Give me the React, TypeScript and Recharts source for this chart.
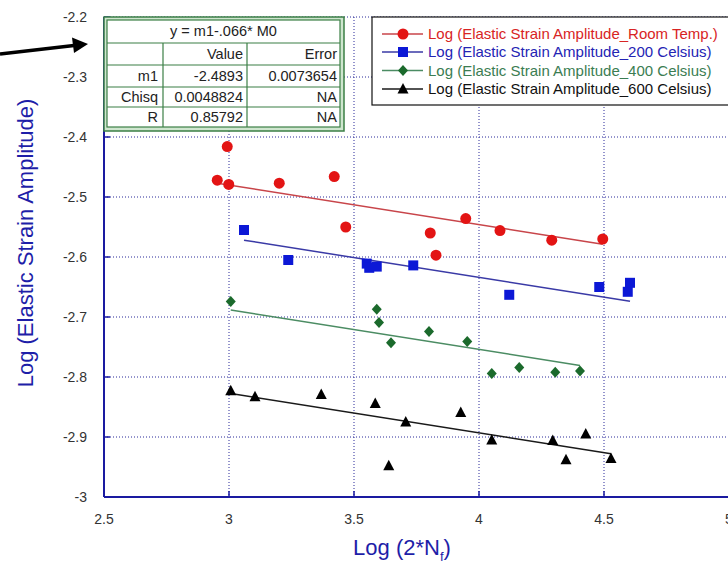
import { CartesianGrid, ReferenceLine, Scatter, ScatterChart, XAxis, YAxis } from "recharts"

// Log(2*Nf) against Log(elastic strain amplitude), one pair of arrays per test temperature
const roomTempX = [2.953, 2.993, 2.999, 3.201, 3.421, 3.467, 3.805, 3.828, 3.947, 4.084, 4.291, 4.495]
const roomTempY = [-2.472, -2.416, -2.479, -2.477, -2.466, -2.55, -2.56, -2.597, -2.536, -2.556, -2.572, -2.57]

const c200X = [3.06, 3.237, 3.551, 3.561, 3.591, 3.737, 4.121, 4.481, 4.595, 4.604]
const c200Y = [-2.555, -2.605, -2.611, -2.618, -2.616, -2.614, -2.663, -2.65, -2.658, -2.643]

const c400X = [3.007, 3.591, 3.6, 3.648, 3.8, 3.953, 4.051, 4.161, 4.305, 4.404]
const c400Y = [-2.674, -2.687, -2.709, -2.743, -2.724, -2.741, -2.794, -2.784, -2.792, -2.79]

const c600X = [3.007, 3.104, 3.369, 3.585, 3.639, 3.707, 3.927, 4.051, 4.295, 4.348, 4.427, 4.528]
const c600Y = [-2.823, -2.833, -2.829, -2.844, -2.948, -2.875, -2.859, -2.905, -2.906, -2.938, -2.895, -2.936]

// fitted lines share the slope, intercept per series
const fitSlope = -0.066
const fitIntercepts = [-2.282, -2.37, -2.49, -2.629]

const seriesNames = [
  "Log (Elastic Strain Amplitude_Room Temp.)",
  "Log (Elastic Strain Amplitude_200 Celsius)",
  "Log (Elastic Strain Amplitude_400 Celsius)",
  "Log (Elastic Strain Amplitude_600 Celsius)",
]

const xTicks = [2.5, 3, 3.5, 4, 4.5, 5]
const yTicks = [-3, -2.9, -2.8, -2.7, -2.6, -2.5, -2.4, -2.3, -2.2]

const fitTitle = "y = m1-.066* M0"
const fitHeader = ["", "Value", "Error"]
const fitRows = [
  ["m1", "-2.4893", "0.0073654"],
  ["Chisq", "0.0048824", "NA"],
  ["R", "0.85792", "NA"],
]

type Kind = "circle" | "square" | "diamond" | "triangle"

const markerKinds: Kind[] = ["circle", "square", "diamond", "triangle"]
const markerColors = ["#e31414", "#0c18d6", "#1b6a2c", "#000000"]
const fitColors = ["#c8454a", "#3a3aa6", "#4b8c63", "#1a1a1a"]
const legendColors = ["#d82424", "#2424b4", "#3b7d52", "#111111"]

const AXIS = "#1a1aa0"
const GRID = "#2a2a9a"
const TITLE = "#1e1ea8"
const TABLE_GREEN = "#3b7f45"
const FONT = "'Liberation Sans', Arial, sans-serif"

const series = [
  [roomTempX, roomTempY],
  [c200X, c200Y],
  [c400X, c400Y],
  [c600X, c600Y],
].map(([xs, ys], i) => {
  const points = xs.map((x, j) => ({ x, y: ys[j] }))
  const x0 = Math.min(...xs)
  const x1 = Math.max(...xs)
  const b = fitIntercepts[i]
  return {
    name: seriesNames[i],
    kind: markerKinds[i],
    color: markerColors[i],
    fitColor: fitColors[i],
    textColor: legendColors[i],
    points,
    fit: [
      { x: x0, y: b + fitSlope * x0 },
      { x: x1, y: b + fitSlope * x1 },
    ],
  }
})

function Marker({ cx, cy, kind, fill }: { cx: number; cy: number; kind: Kind; fill: string }) {
  if (cx == null || cy == null) return null
  switch (kind) {
    case "circle":
      return <circle cx={cx} cy={cy} r={5.5} fill={fill} />
    case "square":
      return <rect x={cx - 5} y={cy - 5} width={10} height={10} fill={fill} />
    case "diamond":
      return <polygon points={`${cx},${cy - 5.5} ${cx + 5},${cy} ${cx},${cy + 5.5} ${cx - 5},${cy}`} fill={fill} />
    default:
      return <polygon points={`${cx},${cy - 6} ${cx + 5.5},${cy + 4.5} ${cx - 5.5},${cy + 4.5}`} fill={fill} />
  }
}

// ticks point into the plot on every side; only bottom and left carry labels
function LeftTick(props: any) {
  const { x, y, payload } = props
  return (
    <g>
      <line x1={x} x2={x + 6} y1={y} y2={y} stroke={AXIS} strokeWidth={1.5} />
      <text x={x - 17} y={y + 5} textAnchor="end" fontSize={14} fontFamily={FONT} fill="#333">
        {payload.value}
      </text>
    </g>
  )
}

function BottomTick(props: any) {
  const { x, y, payload } = props
  return (
    <g>
      <line x1={x} x2={x} y1={y} y2={y - 6} stroke={AXIS} strokeWidth={1.5} />
      <text x={x} y={y + 27} textAnchor="middle" fontSize={14} fontFamily={FONT} fill="#333">
        {payload.value}
      </text>
    </g>
  )
}

function TopTick(props: any) {
  const { x, y } = props
  return <line x1={x} x2={x} y1={y} y2={y + 6} stroke={AXIS} strokeWidth={1.5} />
}

function RightTick(props: any) {
  const { x, y } = props
  return <line x1={x} x2={x - 6} y1={y} y2={y} stroke={AXIS} strokeWidth={1.5} />
}

function FitTable() {
  const left = 104
  const top = 17
  const cols = [107, 163, 247, 340]
  const rowTops = [43, 65, 87, 107, 127]
  return (
    <g fontFamily={FONT} fontSize={14.5} fill="#222">
      <rect x={left} y={top} width={240} height={114} fill="#cfe6cf" stroke={TABLE_GREEN} strokeWidth={1.5} />
      <rect x={cols[0]} y={20} width={cols[3] - cols[0]} height={107} fill="#fff" stroke={TABLE_GREEN} strokeWidth={1.2} />
      <text x={(cols[0] + cols[3]) / 2} y={36} textAnchor="middle">
        {fitTitle}
      </text>
      {rowTops.slice(0, 4).map((ry) => (
        <line key={ry} x1={cols[0]} x2={cols[3]} y1={ry} y2={ry} stroke={TABLE_GREEN} strokeWidth={1.2} />
      ))}
      {[cols[1], cols[2]].map((cx) => (
        <line key={cx} x1={cx} x2={cx} y1={rowTops[0]} y2={rowTops[4]} stroke={TABLE_GREEN} strokeWidth={1.2} />
      ))}
      {[fitHeader, ...fitRows].map((row, r) => {
        const cy = (rowTops[r] + rowTops[r + 1]) / 2 + 5
        return (
          <g key={r}>
            <text x={cols[1] - 5} y={cy} textAnchor="end">{row[0]}</text>
            <text x={cols[2] - 4} y={cy} textAnchor="end">{row[1]}</text>
            <text x={cols[3] - 3} y={cy} textAnchor="end">{row[2]}</text>
          </g>
        )
      })}
    </g>
  )
}

function SeriesLegend() {
  const rowY = [34, 52, 70.5, 89]
  return (
    <g fontFamily={FONT} fontSize={15}>
      <rect x={372} y={17} width={380} height={88} fill="#fff" stroke="#111" strokeWidth={1.2} />
      {series.map((s, i) => (
        <g key={s.name}>
          <line x1={382} x2={423} y1={rowY[i]} y2={rowY[i]} stroke={s.fitColor} strokeWidth={1.5} />
          <Marker cx={403} cy={rowY[i]} kind={s.kind} fill={s.color} />
          <text x={428} y={rowY[i] + 5} fill={s.textColor}>
            {s.name}
          </text>
        </g>
      ))}
    </g>
  )
}

export default function App() {
  return (
    <div style={{ position: "absolute", left: 0, top: 0, width: 728, height: 563, overflow: "hidden", background: "#fff" }}>
      <ScatterChart width={740} height={563} margin={{ top: 17, right: 11, bottom: 0, left: 44 }}>
        <CartesianGrid stroke={GRID} strokeDasharray="1 2" strokeWidth={1} />
        <XAxis
          type="number"
          dataKey="x"
          domain={[2.5, 5]}
          ticks={xTicks}
          interval={0}
          height={66}
          axisLine={{ stroke: AXIS, strokeWidth: 2 }}
          tickLine={false}
          tickSize={0}
          tickMargin={0}
          tick={(p: any) => <BottomTick {...p} />}
          allowDataOverflow
        />
        <XAxis
          xAxisId="top"
          orientation="top"
          type="number"
          domain={[2.5, 5]}
          ticks={xTicks}
          interval={0}
          height={0}
          axisLine={{ stroke: AXIS, strokeWidth: 2 }}
          tickLine={false}
          tickSize={0}
          tickMargin={0}
          tick={(p: any) => <TopTick {...p} />}
        />
        <YAxis
          type="number"
          dataKey="y"
          domain={[-3, -2.2]}
          ticks={yTicks}
          interval={0}
          width={60}
          axisLine={{ stroke: AXIS, strokeWidth: 2 }}
          tickLine={false}
          tickSize={0}
          tickMargin={0}
          tick={(p: any) => <LeftTick {...p} />}
          allowDataOverflow
        />
        <YAxis
          yAxisId="right"
          orientation="right"
          type="number"
          domain={[-3, -2.2]}
          ticks={yTicks}
          interval={0}
          width={0}
          axisLine={{ stroke: AXIS, strokeWidth: 2 }}
          tickLine={false}
          tickSize={0}
          tickMargin={0}
          tick={(p: any) => <RightTick {...p} />}
        />
        {series.map((s) => (
          <ReferenceLine
            key={`fit-${s.name}`}
            segment={s.fit}
            stroke={s.fitColor}
            strokeWidth={1.5}
            ifOverflow="visible"
          />
        ))}
        {series.map((s) => (
          <Scatter
            key={s.name}
            name={s.name}
            data={s.points}
            fill={s.color}
            isAnimationActive={false}
            shape={(p: any) => <Marker cx={p.cx} cy={p.cy} kind={s.kind} fill={s.color} />}
          />
        ))}
      </ScatterChart>

      <svg width={728} height={563} style={{ position: "absolute", left: 0, top: 0, pointerEvents: "none" }}>
        <line x1={0} y1={54} x2={74} y2={45.5} stroke="#000" strokeWidth={3.5} />
        <polygon points="88,44 72,37.5 74,53" fill="#000" />
        <FitTable />
        <SeriesLegend />
        <text
          transform="translate(33, 243) rotate(-90)"
          textAnchor="middle"
          fontFamily={FONT}
          fontSize={22}
          fill={TITLE}
        >
          Log (Elastic Strain Amplitude)
        </text>
        <text x={402} y={555} textAnchor="middle" fontFamily={FONT} fontSize={22} fill={TITLE}>
          Log (2*N
          <tspan fontSize={13} dy={6}>f</tspan>
          <tspan dy={-6}>)</tspan>
        </text>
      </svg>
    </div>
  )
}
